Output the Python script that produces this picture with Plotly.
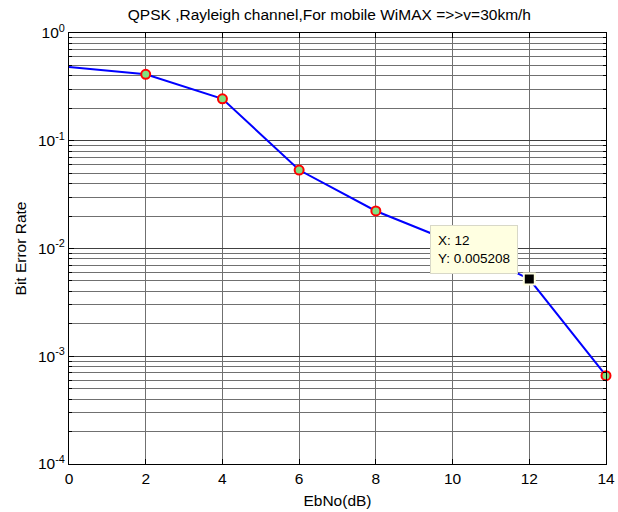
import math
import plotly.graph_objects as go

# Simulated BER of QPSK over a Rayleigh channel (mobile WiMAX, v = 30 km/h)
ebno_db = [0, 2, 4, 6, 8, 10, 12, 14]
ber = [0.483, 0.414, 0.245, 0.0535, 0.0223, 0.0115, 0.005208, 0.00066]

# Points shown with markers (simulation points)
marker_idx = [1, 2, 3, 4, 5, 6, 7]

# Data tip pinned on EbNo = 12 dB
tip_idx = 6

y_major = [1e-4, 1e-3, 1e-2, 1e-1, 1e0]
y_major_text = ["10<sup>-4</sup>", "10<sup>-3</sup>", "10<sup>-2</sup>",
                "10<sup>-1</sup>", "10<sup>0</sup>"]
y_minor = [m * 10.0 ** e for e in range(-4, 0) for m in range(2, 10)]
x_ticks = [0, 2, 4, 6, 8, 10, 12, 14]

FONT = "Liberation Sans, Arial, sans-serif"
GRID = "#707070"

fig = go.Figure()

fig.add_trace(go.Scatter(
    x=ebno_db, y=ber, mode="lines",
    line=dict(color="#0000ff", width=2),
    showlegend=False, hoverinfo="skip",
))
fig.add_trace(go.Scatter(
    x=[ebno_db[i] for i in marker_idx], y=[ber[i] for i in marker_idx],
    mode="markers", cliponaxis=False,
    marker=dict(symbol="circle", size=9, color="#80e080",
                line=dict(color="#ff0000", width=2)),
    showlegend=False, hoverinfo="skip",
))
fig.add_trace(go.Scatter(
    x=[ebno_db[tip_idx]], y=[ber[tip_idx]], mode="markers",
    marker=dict(symbol="square", size=11, color="#000000",
                line=dict(color="#ffffe1", width=2)),
    showlegend=False, hoverinfo="skip",
))

# Data tip box (annotation y on a log axis is given in log10 units)
fig.add_annotation(
    x=ebno_db[tip_idx], y=math.log10(ber[tip_idx]), xref="x", yref="y",
    text=f"X: {ebno_db[tip_idx]}<br>Y: {ber[tip_idx]:.4g}",
    showarrow=True, arrowcolor="rgba(0,0,0,0)", ax=-55, ay=-30,
    align="left", bgcolor="#ffffe1", bordercolor="#d8d8c8", borderwidth=1,
    borderpad=7, font=dict(family=FONT, size=13.5, color="#000000"),
)

fig.update_layout(
    width=618, height=512,
    margin=dict(l=69, r=12, t=33, b=48),
    paper_bgcolor="#ffffff", plot_bgcolor="#ffffff",
    font=dict(family=FONT, size=16, color="#000000"),
    title=dict(text="QPSK ,Rayleigh channel,For mobile WiMAX =>>v=30km/h",
               x=0.533, xanchor="center", y=0.972, yanchor="middle",
               font=dict(family=FONT, size=15.5, color="#000000")),
)

fig.update_xaxes(
    range=[0, 14], tickvals=x_ticks, ticktext=[str(v) for v in x_ticks],
    showgrid=True, gridcolor=GRID, gridwidth=1, automargin=False,
    ticks="inside", ticklen=5, tickcolor="#000000",
    showline=True, linecolor="#000000", linewidth=1, mirror="ticks",
    zeroline=False, tickfont=dict(family=FONT, size=15.5),
    title=dict(text="EbNo(dB)", standoff=9, font=dict(family=FONT, size=15.5)),
)
fig.update_yaxes(
    type="log", range=[-4, 0],
    tickvals=y_major, ticktext=y_major_text,
    showgrid=True, gridcolor="#404040", gridwidth=1, automargin=False,
    ticks="inside", ticklen=5, tickcolor="#000000",
    showline=True, linecolor="#000000", linewidth=1, mirror="ticks",
    zeroline=False, tickfont=dict(family=FONT, size=15.5),
    minor=dict(tickvals=y_minor, showgrid=True, gridcolor=GRID, gridwidth=1,
               ticks="inside", ticklen=3, tickcolor="#000000"),
    title=dict(text="Bit Error Rate", standoff=7, font=dict(family=FONT, size=15.5)),
)

fig.write_html("out.html")
